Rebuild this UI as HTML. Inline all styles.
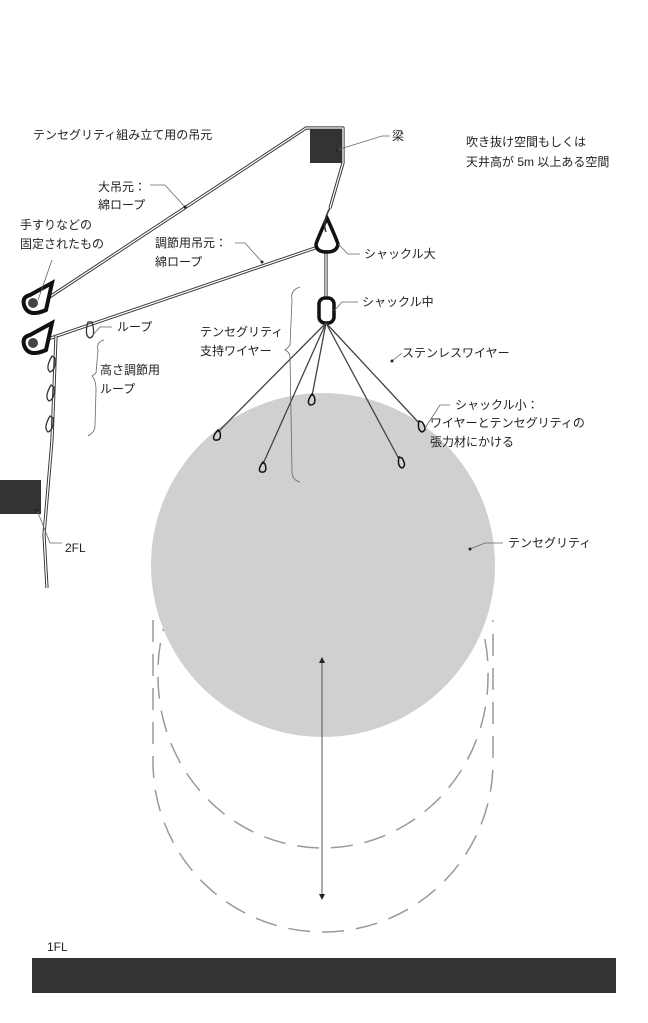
<!DOCTYPE html>
<html><head><meta charset="utf-8"><style>
body{margin:0;background:#fff}
svg{display:block}
text{font-family:"Liberation Sans","Noto Sans CJK JP",sans-serif;font-size:12px;fill:#222}
</style></head><body>
<svg width="648" height="1023" viewBox="0 0 648 1023" xmlns="http://www.w3.org/2000/svg">
<defs>
<marker id="ah" markerWidth="6" markerHeight="6" refX="3" refY="3" orient="auto-start-reverse"><path d="M0,0 L6,3 L0,6 z" fill="#222"/></marker>
</defs>
<!-- dashed shapes -->
<g fill="none" stroke="#999" stroke-width="1.5" stroke-dasharray="22 12">
<path d="M153,620 L153,762 A170,170 0 0 0 493,762 L493,620"/>
<path d="M185,580 A170,170 0 0 0 158,677 A165,171 0 0 0 323,848 A165,171 0 0 0 488,677 A170,170 0 0 0 461,580"/>
</g>
<!-- tensegrity circle -->
<circle cx="323" cy="565" r="172" fill="#d0d0d0"/>
<!-- arrow -->
<line x1="322" y1="660" x2="322" y2="897" stroke="#555" stroke-width="1" marker-start="url(#ah)" marker-end="url(#ah)"/>
<!-- beam -->
<rect x="310" y="128" width="32" height="35" fill="#333"/>
<!-- 2FL block -->
<rect x="0" y="480" width="41" height="34" fill="#333"/>
<!-- floor -->
<rect x="32" y="958" width="584" height="35" fill="#333"/>
<!-- ropes -->
<g fill="none" stroke-linejoin="round">
<path d="M45,300 L306,128 L343,128 L343,163 L330,208" stroke="#333" stroke-width="3.2"/>
<path d="M45,300 L306,128 L343,128 L343,163 L330,208" stroke="#fff" stroke-width="1.3"/>
<path d="M45,340 L318,247" stroke="#333" stroke-width="3.2"/>
<path d="M45,340 L318,247" stroke="#fff" stroke-width="1.3"/>
<path d="M56,336 L52,440 L44,535 L47,588" stroke="#333" stroke-width="3.2"/>
<path d="M56,336 L52,440 L44,535 L47,588" stroke="#fff" stroke-width="1.3"/>
<line x1="326" y1="250" x2="326" y2="298" stroke="#333" stroke-width="3.2"/>
<line x1="326" y1="250" x2="326" y2="298" stroke="#fff" stroke-width="1.3"/>
</g>
<!-- eyes -->
<g stroke="#111" fill="#fff">
<path d="M30,295 L52,283 L46,310 Q28,318 24,305 Q22,297 30,295z" stroke-width="4"/>
<circle cx="33" cy="303" r="5" fill="#444" stroke="none"/>
<path d="M30,335 L52,323 L46,350 Q28,358 24,345 Q22,337 30,335z" stroke-width="4"/>
<circle cx="33" cy="343" r="5" fill="#444" stroke="none"/>
</g>
<!-- small loops -->
<g fill="none" stroke="#333" stroke-width="1.3">
<path d="M88,322 Q84,336 90,338 Q96,336 92,322z"/>
<path d="M52,356 Q45,368 50,372 Q56,370 55,358z"/>
<path d="M51,385 Q44,397 49,401 Q55,399 54,387z"/>
<path d="M50,416 Q43,428 48,432 Q54,430 53,418z"/>
</g>
<!-- shackle large -->
<path d="M327,218 Q336,238 338,244 Q337,252 327,252 Q316,252 316,244 Q318,238 327,218z" fill="none" stroke="#111" stroke-width="3.5"/>
<path d="M330,208 Q322,222 326,232" fill="none" stroke="#333" stroke-width="1.5"/>
<!-- shackle medium -->
<rect x="319" y="298" width="15" height="25" rx="6" fill="none" stroke="#111" stroke-width="3.5"/>
<!-- wires -->
<g stroke="#444" stroke-width="1.3" fill="none">
<line x1="326" y1="323" x2="218" y2="432"/>
<line x1="326" y1="323" x2="263" y2="464"/>
<line x1="326" y1="323" x2="312" y2="396"/>
<line x1="326" y1="323" x2="399" y2="459"/>
<line x1="326" y1="323" x2="419" y2="423"/>
</g>
<g stroke="#111" stroke-width="1.5" fill="none">
<path d="M218,430 Q211,438 215,440 Q222,441 220,432z"/>
<path d="M263,462 Q257,470 261,472 Q268,473 265,464z"/>
<path d="M312,394 Q306,402 310,405 Q317,405 314,396z"/>
<path d="M399,457 Q397,466 402,468 Q407,466 402,458z"/>
<path d="M419,421 Q417,430 422,432 Q428,430 422,422z"/>
</g>
<!-- leader lines -->
<g stroke="#666" stroke-width="0.8" fill="none">
<path d="M337,150 L382,136 L390,136"/>
<path d="M150,185 L165,185 L185,207"/>
<path d="M235,243 L245,243 L262,262"/>
<path d="M52,260 L38,300"/>
<path d="M338,244 L348,254 L360,254"/>
<path d="M334,311 L342,302 L358,302"/>
<path d="M92,336 L100,327 L112,327"/>
<path d="M392,361 L402,353"/>
<path d="M425,428 L440,405 L450,405"/>
<path d="M470,549 L485,543 L503,543"/>
<path d="M37,510 L50,543 L62,543"/>
<path d="M300,287 Q290,290 292,300 L290,345 Q288,348 285,350 Q290,352 290,358 L292,472 Q292,480 300,482"/>
<path d="M104,340 Q96,342 98,350 L96,373 Q92,376 92,376 Q96,380 96,390 L95,426 Q95,432 88,436"/>
</g>
<g fill="#222">
<circle cx="337" cy="150" r="1.5"/><circle cx="185" cy="207" r="1.5"/><circle cx="262" cy="262" r="1.5"/>
<circle cx="392" cy="361" r="1.5"/><circle cx="470" cy="549" r="1.5"/><circle cx="37" cy="510" r="1.5"/>
</g>
<!-- labels -->
<text x="33" y="139">テンセグリティ組み立て用の吊元</text>
<text x="392" y="140">梁</text>
<text x="466" y="146">吹き抜け空間もしくは</text>
<text x="466" y="166">天井高が 5m 以上ある空間</text>
<text x="98" y="191">大吊元：</text>
<text x="98" y="209">綿ロープ</text>
<text x="20" y="229">手すりなどの</text>
<text x="20" y="248">固定されたもの</text>
<text x="155" y="247">調節用吊元：</text>
<text x="155" y="266">綿ロープ</text>
<text x="364" y="258">シャックル大</text>
<text x="362" y="306">シャックル中</text>
<text x="117" y="331">ループ</text>
<text x="200" y="336">テンセグリティ</text>
<text x="200" y="355">支持ワイヤー</text>
<text x="402" y="357">ステンレスワイヤー</text>
<text x="100" y="374">高さ調節用</text>
<text x="100" y="393">ループ</text>
<text x="455" y="409">シャックル小：</text>
<text x="430" y="427">ワイヤーとテンセグリティの</text>
<text x="430" y="446">張力材にかける</text>
<text x="508" y="547">テンセグリティ</text>
<text x="65" y="552">2FL</text>
<text x="47" y="951">1FL</text>
</svg>
</body></html>
